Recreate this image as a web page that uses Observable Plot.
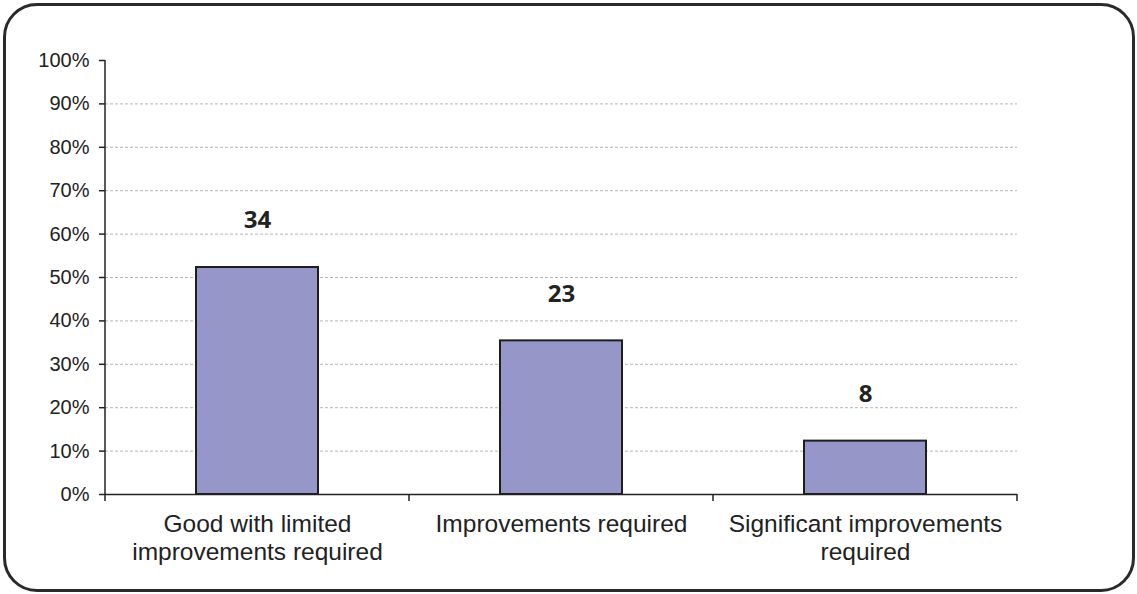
<!DOCTYPE html>
<html>
<head>
<meta charset="utf-8">
<script src="https://cdn.jsdelivr.net/npm/d3@7"></script>
<script src="https://cdn.jsdelivr.net/npm/@observablehq/plot@0.6"></script>
<style>
  html, body { margin: 0; padding: 0; background: #fff; }
  #wrap { position: relative; width: 1137px; height: 594px; }
  #border { position: absolute; left: 3px; top: 3px; width: 1126px; height: 583px;
    border: 3px solid #2a2a2a; border-radius: 34px; box-sizing: content-box; pointer-events: none; }
  #chart { position: absolute; left: 0; top: 0; }
</style>
</head>
<body>
<div id="wrap"><div id="chart"></div><div id="border"></div></div>
<script>
// Data
const categories = ["Good with limited\nimprovements required", "Improvements required", "Significant improvements\nrequired"];
const counts = [34, 23, 8];
const percents = [52.3, 35.4, 12.3];
const yTicks = [0, 10, 20, 30, 40, 50, 60, 70, 80, 90, 100];
const gridTicks = [10, 20, 30, 40, 50, 60, 70, 80, 90];

const data = categories.map((c, i) => ({category: c, count: counts[i], pct: percents[i]}));

const W = 1137, H = 594, ML = 105, MR = 120, MT = 60, MB = 100;

function axisLines() {
  const g = d3.create("svg:g").attr("stroke", "#222").attr("stroke-width", 1.5).attr("fill", "none");
  const x0 = ML, x1 = W - MR, yb = H - MB, yt = MT;
  g.append("line").attr("x1", x0).attr("x2", x0).attr("y1", yt).attr("y2", yb);
  const n = categories.length;
  for (let i = 0; i <= n; i++) {
    const x = x0 + (x1 - x0) * i / n;
    g.append("line").attr("x1", x).attr("x2", x).attr("y1", yb).attr("y2", yb + 7);
  }
  return g.node();
}

const chart = Plot.plot({
  width: W,
  height: H,
  marginLeft: ML,
  marginRight: MR,
  marginTop: MT,
  marginBottom: MB,
  style: {fontFamily: "'Liberation Sans', Arial, sans-serif", background: "transparent"},
  x: {domain: categories, paddingInner: 0.6, paddingOuter: 0.3, label: null},
  y: {domain: [0, 100], label: null},
  marks: [
    Plot.ruleY(gridTicks, {stroke: "#b5b5b5", strokeDasharray: "3,2", strokeWidth: 1}),
    Plot.barY(data, {x: "category", y: "pct", fill: "#9696c8", stroke: "#1e1e1e", strokeWidth: 2}),
    Plot.ruleY([0], {stroke: "#222", strokeWidth: 1.5}),
    axisLines,
    Plot.text(data, {x: "category", y: "pct", text: d => String(d.count), dy: -47,
      fontFamily: "'Open Sans', sans-serif", fontWeight: "bold", fontSize: 24, fill: "#222"}),
    Plot.axisY({ticks: yTicks, tickFormat: d => d + "%", tickSize: 6, tickPadding: 10,
      fontSize: 20, stroke: "#222", strokeWidth: 1.5, fill: "#222"}),
    Plot.axisX({tickSize: 0, tickPadding: 18, fontSize: 24.5, lineHeight: 1.14, fill: "#222", lineWidth: 40})
  ]
});
document.getElementById("chart").appendChild(chart);
</script>
</body>
</html>
